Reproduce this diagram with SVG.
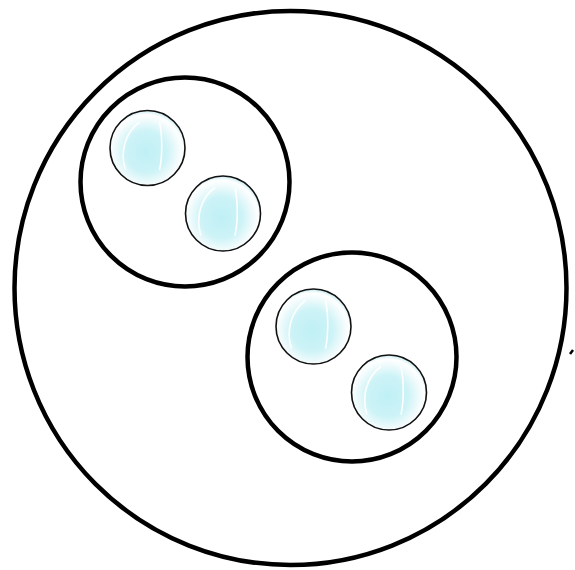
<svg xmlns="http://www.w3.org/2000/svg" width="575" height="570" viewBox="0 0 575 570">
<style>
.ring{fill:none;stroke:#000;stroke-width:4.5}
.bub{fill:url(#bg);stroke:#111;stroke-width:1.6}
.hl{fill:none;stroke:#fff;stroke-width:1.6;opacity:0.95}
</style>
<defs>
<radialGradient id="bg" cx="0.48" cy="0.55" r="0.55">
<stop offset="0" stop-color="#bff0f5"/>
<stop offset="0.5" stop-color="#cdf3f7"/>
<stop offset="0.78" stop-color="#f2fbfc"/>
<stop offset="0.9" stop-color="#ffffff"/>
<stop offset="1" stop-color="#c9edf2"/>
</radialGradient>
<g id="bubble">
<circle class="bub" cx="0" cy="0" r="37.5"/>
<path class="hl" d="M12,-26 C15,-12 15,8 12,22"/>
<path class="hl" d="M-8,-26 C-22,-16 -28,4 -22,22"/>
</g>
</defs>
<g id="outer"><ellipse class="ring" cx="290.5" cy="288" rx="276" ry="277"/></g>
<g id="group-a"><circle class="ring" cx="185" cy="182" r="104.5"/></g>
<g id="group-b"><circle class="ring" cx="352" cy="357" r="104.5"/></g>
<g id="b1"><use href="#bubble" x="147.5" y="148"/></g>
<g id="b2"><use href="#bubble" x="223" y="213.5"/></g>
<g id="b3"><use href="#bubble" x="313.5" y="326.5"/></g>
<g id="b4"><use href="#bubble" x="389" y="392.5"/></g>
<g id="connectors"><path d="M570,354 L573,350" stroke="#000" stroke-width="2.5" fill="none"/></g>
</svg>
